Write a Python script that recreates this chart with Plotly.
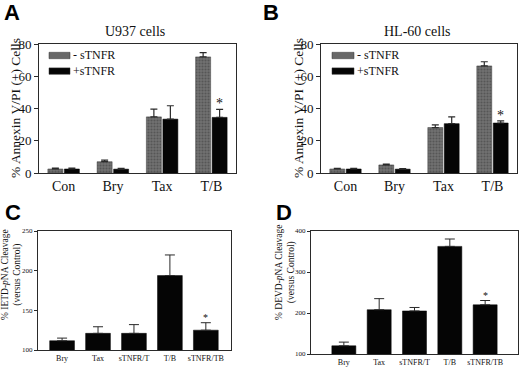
import plotly.graph_objects as go

# ---------------- data ----------------
ab_categories = ["Con", "Bry", "Tax", "T/B"]
series_names = ["- sTNFR", "+sTNFR"]

a_minus = [2.5, 7.0, 34.8, 72.0]
a_minus_err = [0.5, 1.0, 4.8, 2.7]
a_plus = [2.5, 2.4, 33.4, 34.5]
a_plus_err = [0.5, 0.5, 8.3, 5.0]

b_minus = [2.5, 5.0, 28.2, 66.4]
b_minus_err = [0.4, 0.5, 1.6, 2.6]
b_plus = [2.5, 2.4, 30.6, 31.0]
b_plus_err = [0.4, 0.4, 4.2, 1.3]

cd_categories = ["Bry", "Tax", "sTNFR/T", "T/B", "sTNFR/TB"]
c_values = [111.7, 121.0, 121.0, 193.8, 125.0]
c_err = [3.3, 8.3, 11.0, 26.0, 9.4]
d_values = [120.0, 208.0, 205.0, 362.5, 220.0]
d_err = [9.0, 27.0, 8.5, 18.0, 10.5]

ab_yticks = [0, 20, 40, 60, 80]
c_yticks = [100, 150, 200, 250]
d_yticks = [100, 200, 300, 400]

W, H = 520, 367
SERIF = "Liberation Serif, Times New Roman, serif"
LINE = "#2a2a2a"
GREY = "#686868"
BLACK = "#050505"

def px(x):
    return x / W

def py(y):
    return 1 - y / H

fig = go.Figure()

grey_marker = dict(
    color=GREY,
    line=dict(color="#3a3a3a", width=0.5),
    pattern=dict(shape=".", fgcolor="#3a3a3a", bgcolor="#727272", size=3, solidity=0.4),
)
black_marker = dict(color=BLACK, line=dict(color=BLACK, width=0.5))

def err(arr, width=3.5, thickness=1.2):
    return dict(type="data", array=arr, arrayminus=[0] * len(arr), symmetric=False,
                color=LINE, thickness=thickness, width=width)

# Panel A
fig.add_trace(go.Bar(x=ab_categories, y=a_minus, name=series_names[0], marker=grey_marker,
                     error_y=err(a_minus_err), xaxis="x", yaxis="y", showlegend=False))
fig.add_trace(go.Bar(x=ab_categories, y=a_plus, name=series_names[1], marker=black_marker,
                     error_y=err(a_plus_err), xaxis="x", yaxis="y", showlegend=False))
# Panel B
fig.add_trace(go.Bar(x=ab_categories, y=b_minus, name=series_names[0], marker=grey_marker,
                     error_y=err(b_minus_err), xaxis="x2", yaxis="y2", showlegend=False))
fig.add_trace(go.Bar(x=ab_categories, y=b_plus, name=series_names[1], marker=black_marker,
                     error_y=err(b_plus_err), xaxis="x2", yaxis="y2", showlegend=False))
# Panel C
fig.add_trace(go.Bar(x=cd_categories, y=c_values, marker=black_marker, width=0.69,
                     error_y=err(c_err, 5, 1), xaxis="x3", yaxis="y3", showlegend=False))
# Panel D
fig.add_trace(go.Bar(x=cd_categories, y=d_values, marker=black_marker, width=0.68,
                     error_y=err(d_err, 5, 1), xaxis="x4", yaxis="y4", showlegend=False))

def xax(domain, anchor, size, rng=None):
    d = dict(domain=domain, anchor=anchor, showline=True, linecolor=LINE, linewidth=1,
             mirror=True, ticks="", showgrid=False, zeroline=False, automargin=False,
             tickfont=dict(family=SERIF, size=size, color="#111"), fixedrange=True)
    if rng is not None:
        d["range"] = rng
    return d

def yax(domain, anchor, rng, tickvals, size, ticklen):
    return dict(domain=domain, anchor=anchor, range=rng, tickvals=tickvals,
                showline=True, linecolor=LINE, linewidth=1, mirror=True,
                ticks="outside", ticklen=ticklen, tickwidth=1, tickcolor=LINE,
                showgrid=False, zeroline=False, automargin=False,
                tickfont=dict(family=SERIF, size=size, color="#111"), fixedrange=True)

layout = dict(
    width=W, height=H,
    margin=dict(l=0, r=0, t=0, b=0, pad=0),
    paper_bgcolor="white", plot_bgcolor="white",
    barmode="group", bargap=0.33, bargroupgap=0.09,
    xaxis=xax([px(39), px(236)], "y", 14),
    yaxis=yax([py(173), py(44)], "x", [0, 80], ab_yticks, 13, 4),
    xaxis2=xax([px(321), px(517)], "y2", 14),
    yaxis2=yax([py(173), py(44)], "x2", [0, 80], ab_yticks, 13, 4),
    xaxis3=xax([px(38), px(231)], "y3", 8, [-0.67, 4.7]),
    yaxis3=yax([py(350), py(231)], "x3", [100, 250], c_yticks, 7, 3),
    xaxis4=xax([px(311), px(518)], "y4", 8, [-0.93, 4.93]),
    yaxis4=yax([py(354), py(231)], "x4", [100, 400], d_yticks, 7, 3),
    showlegend=False,
)
fig.update_layout(**layout)

def note(text, x, y, size, family=SERIF, angle=0, **kw):
    d = dict(text=text, x=px(x), y=py(y), xref="paper", yref="paper", showarrow=False,
             xanchor="center", yanchor="middle", textangle=angle,
             font=dict(family=family, size=size, color="#111"))
    d.update(kw)
    return d

ann = []
shapes = []
# panel letters
for letter, (lx, ly) in {"A": (12, 13), "B": (271, 13), "C": (13, 212), "D": (284, 212)}.items():
    ann.append(dict(text=letter, x=px(lx), y=py(ly), xref="paper", yref="paper",
                    showarrow=False, xanchor="center", yanchor="middle",
                    font=dict(family="Liberation Sans, Arial, sans-serif", size=22,
                              color="black", weight="bold")))
# panel titles
ann.append(note("U937 cells", 135, 32, 14))
ann.append(note("HL-60 cells", 417, 32, 14))
# y-axis titles
ann.append(note("% Annexin V/PI (+) Cells", 15, 108, 13.5, angle=-90))
ann.append(note("% Annexin V/PI (+) Cells", 298, 108, 13.5, angle=-90))
ann.append(note("% IETD-<i>p</i>NA Cleavage<br>(versus Control)", 11, 275, 9.5, angle=-90))
ann.append(note("% DEVD-<i>p</i>NA Cleavage<br>(versus Control)", 285, 272, 9.5, angle=-90))

# legends (keys drawn as small boxes, labels as one two-line text)
LEG_FONT = 12
row_gap = LEG_FONT * 1.3
for (sx0, sx1, tx, top_row) in [(49, 70, 72, 55.5), (332, 354, 356, 55.5)]:
    rows = [top_row, top_row + row_gap]
    for color, ry in zip([GREY, BLACK], rows):
        shapes.append(dict(type="rect", xref="paper", yref="paper",
                           x0=px(sx0), x1=px(sx1), y0=py(ry + 3.2), y1=py(ry - 3.2),
                           fillcolor=color, line=dict(color="#333", width=0.5)))
    ann.append(note("<br>".join(series_names), tx, (rows[0] + rows[1]) / 2, LEG_FONT,
                    xanchor="left", align="left", borderpad=0))

# significance stars
slot = (1 - 0.33) / 2
star = dict(showarrow=False, xanchor="center", yanchor="bottom")
ann.append(dict(text="*", x=3 + slot / 2, y=a_plus[3] + a_plus_err[3], xref="x", yref="y",
                yshift=-4, font=dict(family=SERIF, size=14, color="#111"), **star))
ann.append(dict(text="*", x=3 + slot / 2, y=b_plus[3] + b_plus_err[3], xref="x2", yref="y2",
                yshift=-4, font=dict(family=SERIF, size=14, color="#111"), **star))
ann.append(dict(text="*", x=4, y=c_values[4] + c_err[4], xref="x3", yref="y3",
                yshift=-2, font=dict(family=SERIF, size=10, color="#111"), **star))
ann.append(dict(text="*", x=4, y=d_values[4] + d_err[4], xref="x4", yref="y4",
                yshift=-2, font=dict(family=SERIF, size=10, color="#111"), **star))
fig.update_layout(annotations=ann, shapes=shapes)

fig.write_html("out.html", post_script="document.body.style.margin='0';",
               config={"displayModeBar": False, "staticPlot": True})
